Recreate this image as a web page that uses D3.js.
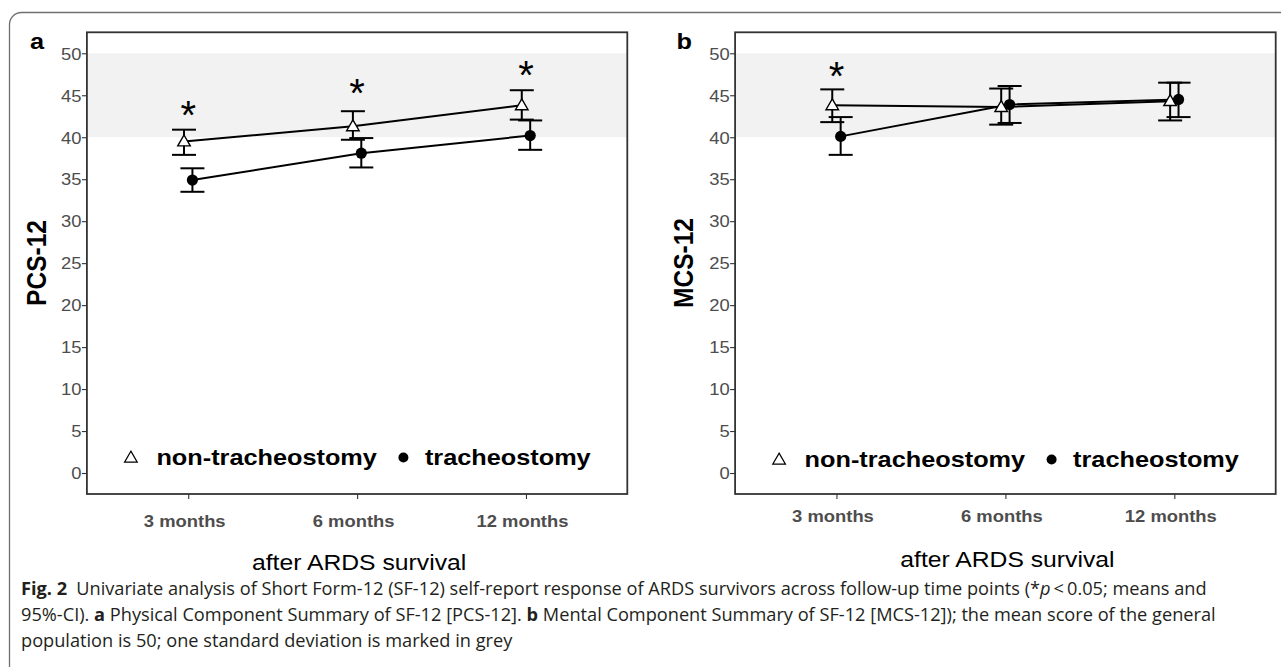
<!DOCTYPE html>
<html>
<head>
<meta charset="utf-8">
<script src="https://cdnjs.cloudflare.com/ajax/libs/d3/7.8.5/d3.min.js"></script>
<style>
body { margin: 0; background: #fff; }
svg { display: block; }
</style>
</head>
<body>
<script>
// time points on the x axis
var months = ["3 months", "6 months", "12 months"];
var yTicks = [0, 5, 10, 15, 20, 25, 30, 35, 40, 45, 50];
var yDomain = [-2.5, 52.5];
// general population: mean 50, one SD marked in grey
var normBand = [40, 50];

// panel a - PCS-12 (means and 95%-CI)
var pcsNonMean = [39.5, 41.3, 43.8];
var pcsNonLo   = [37.9, 39.7, 42.1];
var pcsNonHi   = [40.9, 43.1, 45.6];
var pcsTraMean = [34.9, 38.1, 40.2];
var pcsTraLo   = [33.5, 36.4, 38.5];
var pcsTraHi   = [36.3, 39.9, 42.0];
var pcsStars   = [43.6, 46.2, 48.4];

// panel b - MCS-12
var mcsNonMean = [43.8, 43.6, 44.3];
var mcsNonLo   = [41.8, 41.5, 42.0];
var mcsNonHi   = [45.7, 45.8, 46.5];
var mcsTraMean = [40.1, 43.9, 44.5];
var mcsTraLo   = [37.9, 41.7, 42.4];
var mcsTraHi   = [42.4, 46.1, 46.5];
var mcsStars   = [48.2, null, null];

var groupNames = ["non-tracheostomy", "tracheostomy"];

var sx = 1.15;      // the original figure is stretched a bit horizontally
var dodge = 4.2;    // px between the two groups at one time point
var fontSans = "'Liberation Sans', Arial, sans-serif";

var svg = d3.select("body").append("svg")
    .attr("width", 1281)
    .attr("height", 667);

// outer frame of the figure
svg.append("path")
    .attr("d", "M9.5,667 V24.5 A12,12 0 0 1 21.5,12.5 H1281")
    .attr("fill", "none")
    .attr("stroke", "#707070")
    .attr("stroke-width", 1.3);

function addText(g, x, y, txt, size, weight, anchor, color) {
    return g.append("text")
        .attr("transform", "translate(" + x + "," + y + ") scale(" + sx + ",1)")
        .attr("text-anchor", anchor)
        .style("font-family", fontSans)
        .style("font-size", size + "px")
        .style("font-weight", weight)
        .style("fill", color)
        .text(txt);
}

function drawPanel(p) {
    var g = svg.append("g");

    var xScale = d3.scalePoint().domain(months).range([p.x0, p.x1]).padding(0.6);
    var yScale = d3.scaleLinear().domain(yDomain).range([p.y1, p.y0]);

    // grey band for mean-SD .. mean
    g.append("rect")
        .attr("x", p.x0)
        .attr("y", yScale(normBand[1]))
        .attr("width", p.x1 - p.x0)
        .attr("height", yScale(normBand[0]) - yScale(normBand[1]))
        .attr("fill", "#f2f2f2");

    // y axis
    var yAxis = g.append("g")
        .attr("transform", "translate(" + p.x0 + ",0)")
        .call(d3.axisLeft(yScale).tickValues(yTicks).tickSize(5).tickPadding(1));
    yAxis.select(".domain").remove();
    yAxis.selectAll(".tick line").attr("stroke", "#333").attr("stroke-width", 1.1);
    yAxis.selectAll(".tick text")
        .attr("x", -5.5 / sx)
        .attr("dy", "0.36em")
        .attr("transform", "scale(" + sx + ",1)")
        .style("font-family", fontSans)
        .style("font-size", "16px")
        .style("fill", "#4d4d4d");

    // x axis
    var xAxis = g.append("g")
        .attr("transform", "translate(0," + p.y1 + ")")
        .call(d3.axisBottom(xScale).tickSize(5));
    xAxis.select(".domain").remove();
    xAxis.selectAll(".tick line").attr("stroke", "#333").attr("stroke-width", 1.1);
    xAxis.selectAll(".tick text")
        .attr("x", -4 / sx)
        .attr("y", p.tickBase - p.y1)
        .attr("dy", 0)
        .attr("transform", "scale(" + sx + ",1)")
        .style("font-family", fontSans)
        .style("font-size", "16px")
        .style("font-weight", "bold")
        .style("fill", "#4d4d4d");

    var series = [
        {name: groupNames[0], mean: p.nonMean, lo: p.nonLo, hi: p.nonHi, off: -dodge},
        {name: groupNames[1], mean: p.traMean, lo: p.traLo, hi: p.traHi, off: dodge}
    ];

    var px = function(s, i) { return xScale(months[i]) + s.off; };

    // error bars
    series.forEach(function(s) {
        var eb = g.append("g").attr("stroke", "#000").attr("stroke-width", 2);
        months.forEach(function(m, i) {
            var cx = px(s, i);
            eb.append("line").attr("x1", cx).attr("x2", cx)
                .attr("y1", yScale(s.lo[i])).attr("y2", yScale(s.hi[i]));
            eb.append("line").attr("x1", cx - 12).attr("x2", cx + 12)
                .attr("y1", yScale(s.lo[i])).attr("y2", yScale(s.lo[i]));
            eb.append("line").attr("x1", cx - 12).attr("x2", cx + 12)
                .attr("y1", yScale(s.hi[i])).attr("y2", yScale(s.hi[i]));
        });
    });

    // lines through the means
    series.forEach(function(s) {
        var line = d3.line()
            .x(function(d, i) { return px(s, i); })
            .y(function(d) { return yScale(d); });
        g.append("path")
            .attr("d", line(s.mean))
            .attr("fill", "none")
            .attr("stroke", "#000")
            .attr("stroke-width", 2);
    });

    // points
    var tri = d3.symbol().type(d3.symbolTriangle).size(68);
    g.selectAll(".tri")
        .data(series[0].mean)
        .enter().append("path")
        .attr("class", "tri")
        .attr("d", tri)
        .attr("transform", function(d, i) { return "translate(" + px(series[0], i) + "," + (yScale(d) + 0.8) + ")"; })
        .attr("fill", "#fff")
        .attr("stroke", "#000")
        .attr("stroke-width", 1.4);
    g.selectAll(".dot")
        .data(series[1].mean)
        .enter().append("circle")
        .attr("class", "dot")
        .attr("cx", function(d, i) { return px(series[1], i); })
        .attr("cy", function(d) { return yScale(d); })
        .attr("r", 5.6)
        .attr("fill", "#000");

    // significance marks
    p.stars.forEach(function(v, i) {
        if (v === null) return;
        g.append("text")
            .attr("x", xScale(months[i]))
            .attr("y", yScale(v) + 22)
            .attr("text-anchor", "middle")
            .style("font-family", fontSans)
            .style("font-size", "40px")
            .style("fill", "#000")
            .text("*");
    });

    // plot border
    g.append("rect")
        .attr("x", p.x0)
        .attr("y", p.y0)
        .attr("width", p.x1 - p.x0)
        .attr("height", p.y1 - p.y0)
        .attr("fill", "none")
        .attr("stroke", "#333")
        .attr("stroke-width", 1.8);

    // legend inside the plot
    var ly = p.legendBase;
    g.append("path")
        .attr("d", d3.symbol().type(d3.symbolTriangle).size(70)())
        .attr("transform", "translate(" + (p.x0 + 44) + "," + (ly - 6.5) + ")")
        .attr("fill", "#fff")
        .attr("stroke", "#000")
        .attr("stroke-width", 1.2);
    addText(g, p.x0 + 69.5, ly, groupNames[0], 22, "bold", "start", "#000");
    g.append("circle")
        .attr("cx", p.x0 + 316.5)
        .attr("cy", ly - 7.5)
        .attr("r", 5)
        .attr("fill", "#000");
    addText(g, p.x0 + 338, ly, groupNames[1], 22, "bold", "start", "#000");

    // titles
    addText(g, p.letterX, 49, p.letter, 22, "bold", "start", "#000");
    g.append("text")
        .attr("transform", "translate(" + p.yTitleX + ",263) scale(" + sx + ",1) rotate(-90)")
        .attr("text-anchor", "middle")
        .style("font-family", fontSans)
        .style("font-size", "24.5px")
        .style("font-weight", "bold")
        .style("fill", "#000")
        .text(p.yTitle);
    addText(g, (p.x0 + p.x1) / 2 + 2, p.titleBase, "after ARDS survival", 21.5, "normal", "middle", "#000");
}

drawPanel({
    x0: 86.9, x1: 627.3, y0: 32.3, y1: 494,
    nonMean: pcsNonMean, nonLo: pcsNonLo, nonHi: pcsNonHi,
    traMean: pcsTraMean, traLo: pcsTraLo, traHi: pcsTraHi,
    stars: pcsStars,
    letter: "a", letterX: 30, yTitle: "PCS-12", yTitleX: 46,
    tickBase: 527.5, legendBase: 465, titleBase: 570
});

drawPanel({
    x0: 735.1, x1: 1275.7, y0: 32.3, y1: 494,
    nonMean: mcsNonMean, nonLo: mcsNonLo, nonHi: mcsNonHi,
    traMean: mcsTraMean, traLo: mcsTraLo, traHi: mcsTraHi,
    stars: mcsStars,
    letter: "b", letterX: 676.5, yTitle: "MCS-12", yTitleX: 693,
    tickBase: 522, legendBase: 467, titleBase: 567
});

// figure caption
var capFont = "'Open Sans', 'Noto Sans', sans-serif";
var capLines = [
    [["Fig. 2", "bold", "normal"], ["\u2002Univariate analysis of Short Form-12 (SF-12) self-report response of ARDS survivors across follow-up time points (*", "normal", "normal"], ["p", "normal", "italic"], ["\u2009<\u20090.05; means and", "normal", "normal"]],
    [["95%-CI). ", "normal", "normal"], ["a", "bold", "normal"], [" Physical Component Summary of SF-12 [PCS-12]. ", "normal", "normal"], ["b", "bold", "normal"], [" Mental Component Summary of SF-12 [MCS-12]); the mean score of the general", "normal", "normal"]],
    [["population is 50; one standard deviation is marked in grey", "normal", "normal"]]
];
var capBase = [595, 621, 647];

capLines.forEach(function(parts, li) {
    var t = svg.append("text")
        .attr("x", 21)
        .attr("y", capBase[li])
        .style("font-family", capFont)
        .style("font-size", "18.2px")
        .style("fill", "#231f20");
    parts.forEach(function(pt) {
        t.append("tspan")
            .style("font-weight", pt[1])
            .style("font-style", pt[2])
            .text(pt[0]);
    });
});
</script>
</body>
</html>
